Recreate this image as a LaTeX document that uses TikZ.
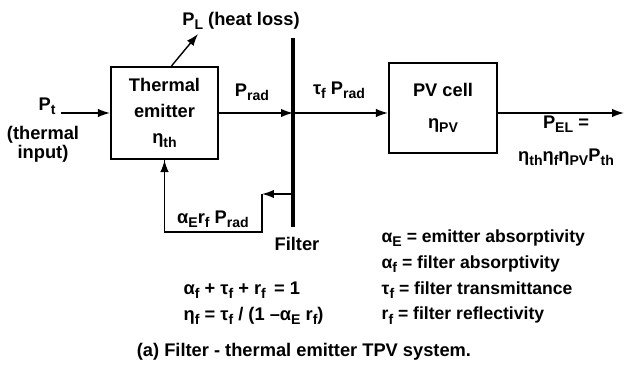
\documentclass[tikz,border=0pt]{standalone}
\usepackage{fontspec}
\setmainfont{Liberation Sans}
\usetikzlibrary{arrows.meta, positioning}
\newcommand{\sbs}[1]{\raisebox{-0.45ex}{\fontsize{10}{10}\selectfont #1}}

\begin{document}
\begin{tikzpicture}[x=0.025cm, y=-0.025cm,
  font=\fontsize{13}{15}\selectfont\bfseries,
  block/.style={draw, line width=1.5pt, minimum width=2.675cm,
                minimum height=2.3cm, align=center, inner sep=0pt,
                font=\fontsize{13}{18.5}\selectfont\bfseries},
  flow/.style={-{Latex[length=8.5pt,width=6pt]}, line width=1pt},
  filterline/.style={line width=2.4pt},
  lbl/.style={inner sep=1pt, align=center},
]
\useasboundingbox (0,0) rectangle (627,375);

% blocks
\node[block] (emitter) at (164.5,113) {Thermal\\emitter\\η\sbs{th}};
\node[block, minimum width=2.7cm, minimum height=2.25cm] (pvcell) at (443,108)
  {PV cell\\[4pt]η\sbs{PV}};

% filter
\coordinate (ftop) at (293,38);
\coordinate (fbot) at (293,227);
\coordinate (fmid) at (293,113);
\draw[filterline] (ftop) -- (fbot);
\node[lbl] (filterlbl) at (297,244) {Filter};

% input
\node[lbl] (pt) at (47,106) {P\sbs{t}};
\node[lbl, font=\fontsize{13}{13.5}\selectfont\bfseries] (ptnote) at (43,144) {(thermal\\input)};
\draw[flow] ([xshift=3pt]pt.east |- emitter.west) -- (emitter.west);

% heat loss
\coordinate (hl) at (198,34);
\draw[flow] ([xshift=5pt]emitter.north) -- (hl);
\node[lbl] (pl) at (241,21) {P\sbs{L} (heat loss)};

% radiation through filter
\draw[flow] (emitter.east) -- (fmid);
\node[lbl] (prad) at (252,92) {P\sbs{rad}};
\draw[flow] (fmid) -- (fmid -| pvcell.west);
\node[lbl] (tprad) at (339,90) {τ\sbs{f} P\sbs{rad}};

% output
\coordinate (out) at (624,113);
\draw[flow] (fmid -| pvcell.east) -- (out);
\node[lbl, font=\fontsize{13}{23.4}\selectfont\bfseries] (pel) at (566,141)
  {P\sbs{EL} =\\η\sbs{th}η\sbs{f}η\sbs{PV}P\sbs{th}};

% reflected feedback
\coordinate (fref) at (293,194);
\coordinate (fbk) at (262,194);
\coordinate (fbkdn) at (262,232);
\draw[flow] (fref) -- (fbk);
\draw[line width=1pt] (fbk) -- (fbkdn) -| (emitter.south);
\draw[flow] (fbkdn -| emitter.south) -- (emitter.south);
\node[lbl] (aeprad) at (213,219) {α\sbs{E}r\sbs{f} P\sbs{rad}};

% relations
\node[lbl, anchor=west, align=left, font=\fontsize{13}{18.4}\selectfont\bfseries] (eqs) at (182,303)
  {α\sbs{f} + τ\sbs{f} + r\sbs{f}\, = 1\\η\sbs{f} = τ\sbs{f} / (1 –α\sbs{E} r\sbs{f})};
\node[lbl, anchor=west, align=left, font=\fontsize{12.5}{18.3}\selectfont\bfseries] (legend) at (380,277)
  {α\sbs{E} = emitter absorptivity\\α\sbs{f} = filter absorptivity\\τ\sbs{f} = filter transmittance\\r\sbs{f} = filter reflectivity};

% caption
\node[lbl] (caption) at (304,352) {(a) Filter - thermal emitter TPV system.};
\end{tikzpicture}
\end{document}
